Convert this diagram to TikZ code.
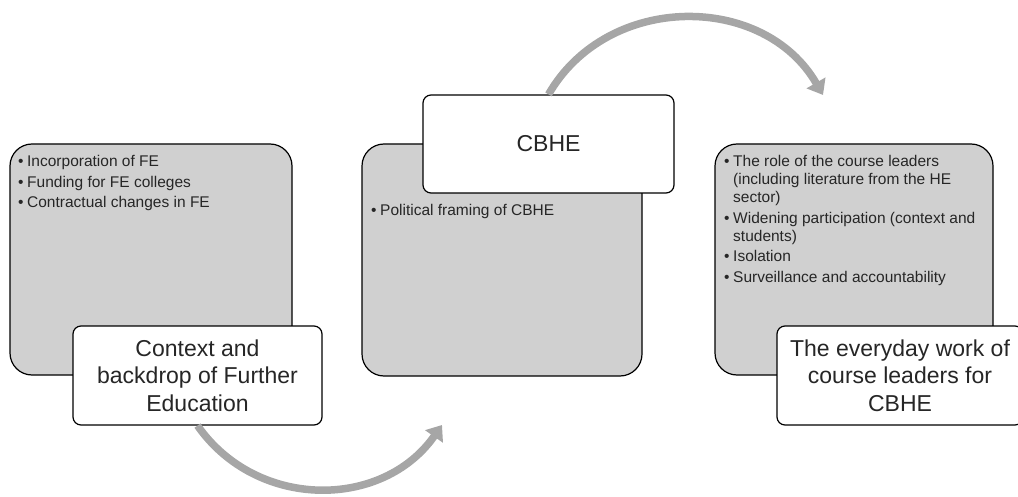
\documentclass[tikz,border=0pt]{standalone}
\usepackage{fontspec}
\setmainfont{Liberation Sans}
\usetikzlibrary{arrows.meta}
\definecolor{PanelGray}{HTML}{D0D0D0}
\definecolor{ArrowGray}{HTML}{A6A6A6}
\definecolor{InkGray}{HTML}{262626}
\newcommand{\bitem}{\makebox[9pt][l]{\textbullet}}
\newcommand{\bgap}{\hspace*{9pt}}

\begin{document}
\begin{tikzpicture}[x=1pt,y=1pt,>=Latex]
    \tikzstyle{panel}=[draw,line width=1.2pt,rounded corners=22pt,fill=PanelGray,inner sep=0pt]
    \tikzstyle{heading}=[draw,line width=1.2pt,rounded corners=8pt,fill=white,align=center,text=InkGray,inner sep=0pt,font=\fontsize{23}{27.5}\selectfont]
    \tikzstyle{points}=[anchor=north west,align=left,inner sep=0pt,text=InkGray,font=\fontsize{15.5}{18}\selectfont]
    \tikzstyle{flow}=[draw=ArrowGray,line width=7.5pt,-{Triangle[width=21pt,length=14pt]}]
    \useasboundingbox (0,0) rectangle (1018,-497);
    % panels with bullet points
    \node[panel,minimum width=282pt,minimum height=231pt] (ctxpanel) at (151,-259.5) {};
    \node[points] (ctxlist) at (18,-155.5) {\bitem Incorporation of FE\\[2.5pt]
        \bitem Funding for FE colleges\\[2.5pt]
        \bitem Contractual changes in FE};
    \node[heading,minimum width=249pt,minimum height=99pt] (ctxhead) at (197.5,-375.5) {Context and\\backdrop of Further\\Education};
    \node[panel,minimum width=280pt,minimum height=232pt] (cbhepanel) at (502,-260) {};
    \node[heading,minimum width=251pt,minimum height=98pt] (cbhehead) at (548.5,-144) {CBHE};
    \node[points] (cbhelist) at (371,-204.5) {\bitem Political framing of CBHE};
    \node[panel,minimum width=278pt,minimum height=231pt] (workpanel) at (854,-259.5) {};
    \node[points] (worklist) at (724,-155.5) {\bitem The role of the course leaders\\
        \bgap (including literature from the HE\\
        \bgap sector)\\[2.5pt]
        \bitem Widening participation (context and\\
        \bgap students)\\[2.5pt]
        \bitem Isolation\\[2.5pt]
        \bitem Surveillance and accountability};
    \node[heading,minimum width=246pt,minimum height=99pt] (workhead) at (900,-375.5) {The everyday work of\\course leaders for\\CBHE};
    % curved arrows
    \coordinate (toptip) at (823,-95);
    \coordinate (bottip) at (442,-425);
    \draw[flow] (cbhehead.north) to[out=60,in=120,looseness=1.1] (toptip);
    \draw[flow] (ctxhead.south) to[out=-55,in=-125,looseness=1.08] (bottip);
\end{tikzpicture}
\end{document}
